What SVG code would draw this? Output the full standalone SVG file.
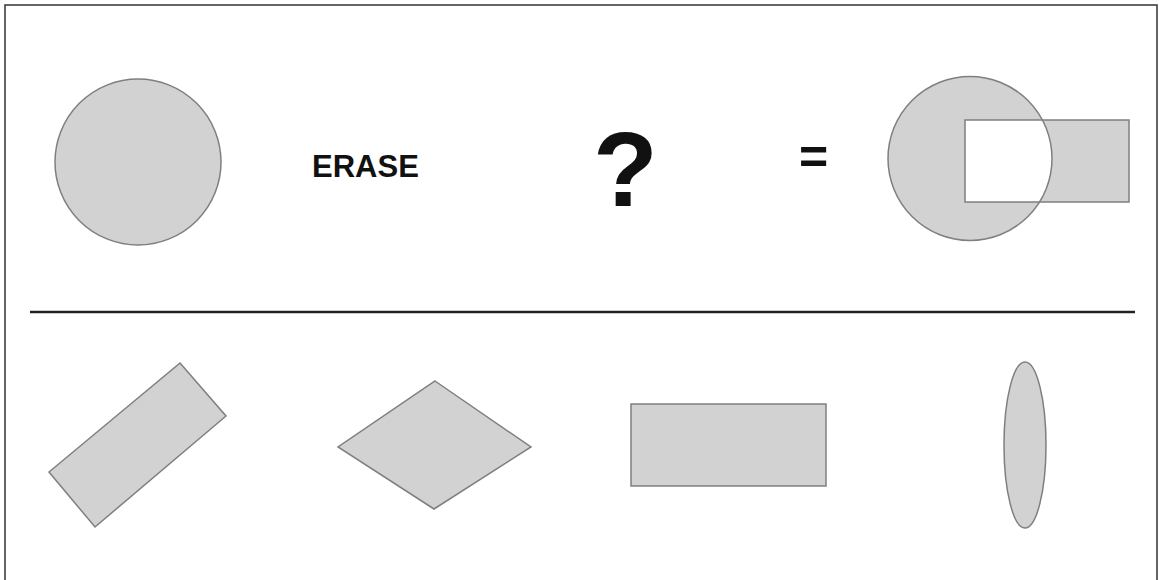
<svg xmlns="http://www.w3.org/2000/svg" width="1159" height="580" viewBox="0 0 1159 580">
<style>
.shape{fill:#d2d2d2;stroke:#7f7f7f;stroke-width:1.5}
.txt{font-family:"Liberation Sans",Arial,sans-serif;font-weight:bold;fill:#111}
</style>
<defs>
<clipPath id="cc"><circle cx="970" cy="158.5" r="82"/></clipPath>
</defs>
<rect width="1159" height="580" fill="#fff"/>
<path d="M5,580 V5 H1157 V580" fill="none" stroke="#333" stroke-width="1.5"/>
<g id="circle1"><circle class="shape" cx="138" cy="162" r="83"/></g>
<g id="erase"><text class="txt" x="312" y="177" font-size="31">ERASE</text></g>
<g id="question"><text class="txt" x="593" y="206" font-size="106">?</text></g>
<g id="equals"><text class="txt" x="799" y="174" font-size="50">=</text></g>
<g id="result">
<circle cx="970" cy="158.5" r="82" fill="#d2d2d2"/>
<rect x="965" y="120" width="164" height="82" fill="#d2d2d2"/>
<rect x="965" y="120" width="164" height="82" fill="#fff" clip-path="url(#cc)"/>
<circle cx="970" cy="158.5" r="82" fill="none" stroke="#7f7f7f" stroke-width="1.5"/>
<rect x="965" y="120" width="164" height="82" fill="none" stroke="#7f7f7f" stroke-width="1.5"/>
</g>
<g id="divider"><line x1="30" y1="312" x2="1135" y2="312" stroke="#222" stroke-width="2.5"/></g>
<g id="rotrect"><polygon class="shape" points="180,363 226,416 95,527 49,472"/></g>
<g id="diamond"><polygon class="shape" points="435,381 531,447 434,509 338,447"/></g>
<g id="rect"><rect class="shape" x="631" y="404" width="195" height="82"/></g>
<g id="ellipse"><ellipse class="shape" cx="1025" cy="445" rx="21" ry="83"/></g>
</svg>
